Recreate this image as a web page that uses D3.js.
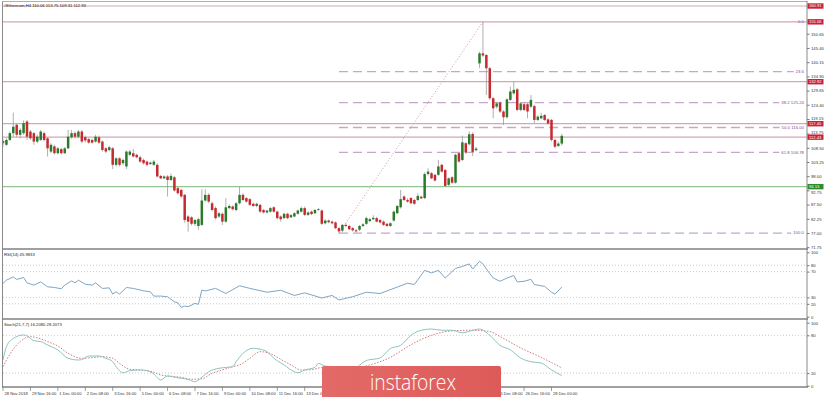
<!DOCTYPE html>
<html><head><meta charset="utf-8">
<script src="https://cdn.jsdelivr.net/npm/d3@7"></script>
<style>
body{margin:0;background:#fff;overflow:hidden;}
svg{display:block;font-family:"Liberation Sans",Arial,sans-serif;}
</style></head><body>
<svg id="c" width="825" height="397"></svg>
<script>
// ---------------- DATA ----------------
const title = "#Ethereum,H4  110.06 113.75 109.31 112.93";
const rsiTitle = "RSI(14) 45.9833";
const stochTitle = "Stoch(21,7,7) 16.2080 28.2073";

// [open, high, low, close] per H4 bar
const candles = [
[110.2,111.8,108.8,111.0],[109.6,112.0,109.2,111.4],[111.4,114.5,111.0,113.9],[113.9,121.5,112.6,116.3],
[117.0,117.6,112.4,113.3],[113.3,115.8,112.0,115.1],[113.9,118.6,113.3,117.6],[118.2,118.8,111.4,112.6],
[114.5,115.1,111.4,112.0],[113.9,114.3,109.6,110.8],[110.8,113.3,110.2,112.6],[111.4,115.1,111.0,114.5],
[113.9,114.5,110.8,111.4],[112.0,112.4,105.3,108.3],[107.1,110.2,106.5,109.6],[109.0,109.6,106.0,106.5],
[106.5,108.8,106.0,108.3],[108.0,108.5,106.0,106.5],[106.5,108.8,106.2,108.3],[108.3,115.1,108.0,112.6],
[112.4,115.1,111.8,113.9],[113.9,114.5,112.0,112.6],[112.6,115.1,112.0,114.5],[114.5,115.1,110.2,110.8],
[112.4,113.0,110.5,111.2],[111.7,112.2,110.0,110.4],[111.4,111.8,110.0,110.4],[110.8,113.3,110.4,112.6],
[112.4,113.0,109.8,110.4],[110.8,111.2,107.1,107.7],[108.3,108.8,106.5,107.1],[107.7,109.2,107.2,108.7],
[108.3,108.8,100.6,102.2],[102.2,105.0,101.5,104.6],[104.6,105.0,101.6,102.2],[102.8,104.5,102.2,104.0],
[101.6,107.5,100.7,107.1],[105.9,107.7,105.5,107.1],[106.5,108.0,104.9,105.3],[105.9,106.3,104.6,105.0],
[105.0,105.5,103.0,103.4],[104.0,104.5,102.3,102.8],[103.4,103.8,101.6,102.2],[102.5,103.4,102.2,103.0],
[102.2,104.0,101.8,103.4],[102.2,102.8,97.5,97.9],[98.1,98.5,96.9,97.2],[97.2,98.3,96.9,97.9],
[97.9,98.4,90.5,96.6],[96.6,99.0,96.2,98.1],[97.6,98.1,92.3,92.7],[93.6,94.0,91.2,91.7],
[92.9,93.3,90.0,90.5],[91.1,91.5,80.8,81.8],[83.1,83.6,77.5,81.2],[82.8,83.2,79.8,80.4],
[80.4,82.2,79.6,81.8],[79.6,82.6,78.2,82.1],[80.0,93.2,79.6,89.0],[89.0,93.2,88.6,91.1],
[91.1,91.7,88.0,88.6],[88.0,88.6,85.0,85.5],[86.2,86.8,82.0,82.5],[83.1,84.8,82.6,84.3],
[84.1,84.6,80.0,81.2],[81.2,89.9,80.8,86.5],[86.2,87.6,85.8,87.0],[86.8,87.2,85.3,85.8],
[85.5,88.4,85.0,88.0],[88.0,94.2,87.6,91.1],[91.1,91.6,88.8,89.2],[89.9,90.3,88.2,88.6],
[89.5,89.9,87.0,87.4],[87.8,88.2,86.6,87.0],[87.0,88.2,86.5,87.8],[87.4,87.8,84.4,84.9],
[85.5,85.9,84.2,84.6],[84.6,85.6,84.2,85.3],[84.9,86.6,84.5,86.2],[86.5,86.9,84.5,84.9],
[84.9,85.3,82.0,82.5],[83.1,83.5,81.2,82.1],[82.5,84.5,82.1,84.1],[84.1,84.5,82.1,82.5],
[82.8,84.0,82.5,83.6],[83.1,84.7,82.8,84.3],[84.1,85.7,83.8,85.3],[84.9,86.8,84.5,86.2],
[86.2,86.8,83.3,83.7],[83.7,85.0,83.3,84.6],[84.9,85.3,83.6,84.0],[84.3,85.9,84.0,85.5],
[85.5,86.2,85.2,85.8],[85.3,85.7,80.0,80.4],[80.6,82.0,80.2,81.6],[81.6,82.0,80.6,81.0],
[81.2,81.6,80.2,80.6],[80.9,81.3,78.4,78.8],[78.8,79.2,76.94,77.6],[77.9,80.4,77.3,80.0],
[80.0,80.6,79.2,79.6],[79.6,80.0,78.0,78.4],[78.8,79.2,77.5,78.0],[78.0,78.5,77.2,77.6],
[78.2,80.0,77.8,79.6],[79.6,80.6,79.2,80.2],[80.4,83.0,80.0,82.5],[81.4,82.6,81.0,82.1],
[82.1,83.6,81.8,82.6],[82.5,83.0,80.9,81.2],[81.8,82.2,80.5,80.9],[81.2,81.6,79.6,80.0],
[80.4,80.8,79.2,79.6],[79.6,81.0,79.2,80.6],[81.6,85.3,81.2,84.9],[84.3,87.4,84.0,87.0],
[86.5,92.9,86.0,89.5],[90.5,90.9,88.8,89.2],[89.2,89.9,88.2,88.6],[89.9,90.3,87.6,88.0],
[89.2,89.6,87.4,87.8],[89.2,91.7,88.8,90.7],[90.4,90.8,89.6,89.8],[89.9,99.4,89.5,98.8],
[98.8,100.9,98.2,99.7],[99.1,99.5,96.9,97.2],[98.5,98.9,96.0,96.4],[98.5,104.0,98.1,101.6],
[102.2,102.6,99.3,99.7],[100.3,100.7,94.0,94.4],[94.8,97.6,94.4,97.2],[97.6,98.0,95.2,95.6],
[95.6,106.3,95.2,105.9],[106.5,106.9,103.0,103.4],[104.0,113.0,103.6,110.5],[110.2,110.6,106.2,106.8],
[109.8,114.6,109.4,113.5],[113.6,114.2,105.4,107.0],[107.6,108.8,107.2,108.2],[139.7,144.0,137.9,143.4],
[143.4,155.06,142.0,142.6],[142.8,143.2,128.0,137.9],[137.9,138.4,126.2,126.8],[126.8,127.2,119.4,123.1],
[123.7,125.5,123.0,124.9],[125.2,125.6,121.4,121.9],[121.9,122.4,116.9,119.8],[119.8,126.8,119.3,126.4],
[126.2,131.1,125.8,129.3],[128.6,132.9,128.2,129.9],[130.1,130.6,122.0,122.5],[122.5,125.4,122.0,124.9],
[124.6,125.2,122.0,122.5],[124.6,125.0,119.4,121.9],[123.7,128.0,123.2,126.2],[123.9,124.4,117.5,118.8],
[118.8,120.5,118.4,120.0],[119.4,121.4,119.0,120.3],[120.6,121.0,118.4,118.8],[119.0,119.4,117.0,117.5],
[118.8,119.2,110.8,111.4],[111.4,111.8,108.2,108.9],[109.2,110.8,108.8,110.06],[110.06,113.75,109.31,112.93]
];

// RSI(14) readings: [bar, value]
const rsiPoints = [[0,51.6],[1,56.7],[3,61.8],[4,57.8],[6,60.9],[7,52.6],[9,49],[11,54.1],[13,46.4],[15,45.4],
[17,43.3],[18,49],[20,55.6],[21,52.6],[22,56.7],[24,50.5],[26,49],[27,52.6],[29,43.9],[31,44.8],[32,35.1],
[33,38.6],[34,35.1],[36,45.4],[38,43.9],[41,40.2],[43,38.6],[44,32],[46,32],[48,30.9],[50,23.2],[51,21.6],
[52,14.5],[53,16.5],[54,15.5],[56,20.7],[57,19.2],[58,41.3],[59,40],[62,44],[65,36],[69,48],[72,44],[77,38],
[81,41],[85,33],[88,37],[93,29],[96,33],[98,26],[102,31],[106,38],[110,36],[115,46],[118,52],[120,50],
[123,72],[125,68],[127,72],[129,60],[132,75],[134,78],[136,82],[137,74],[139,86],[140,82],[141,74],[143,60],
[145,55],[147,60],[149,64],[150,54],[152,55],[154,58],[155,50],[158,47],[160,38],[161,35],[163,46]];

// Stochastic %K and %D readings: [bar, value]
const stochK = [[0,41],[1,62],[3,75],[6,80.5],[7,79],[9,71.4],[11,70],[13,64.6],[16,56.7],[19,43.5],[22,40.8],
[23,41.5],[25,47.1],[28,47.1],[30,43.5],[32,38.1],[33,30.2],[35,20.6],[37,23.8],[40,25],[42,23.8],[44,18.6],
[46,9],[48,15.4],[50,13.5],[52,11.7],[54,10],[56,6.3],[58,13.5],[60,22.2],[63,27.6],[65,29],[67,30.2],[68,38.1],
[70,51.4],[73,59.4],[75,58],[77,54],[79,43.5],[82,32.9],[85,22.2],[86,20.6],[88,24.9],[91,29.2],[92,35.4],
[94,31],[96,30],[99,17],[102,24],[106,40],[110,44],[113,59],[116,64],[119,80],[122,88],[125,90],[128,88],
[131,88],[134,84],[137,88],[139,90],[142,80],[145,64],[148,57],[151,44],[154,38],[157,36],[160,25],[163,16.2]];
const stochD = [[0,30],[2,50],[5,70],[8,77.8],[10,76],[13,70],[16,63],[19,51.4],[23,43.5],[26,44.5],[29,46],
[32,43.5],[34,35.4],[37,26],[40,24.9],[43,23],[46,17],[49,15],[52,13.3],[55,10.2],[58,11],[61,19.7],[64,25],
[67,30.2],[69,33],[72,43.5],[75,54],[78,51],[81,41.9],[84,33],[87,24.9],[90,25.5],[93,29],[96,30],[102,27],
[107,33],[113,45],[119,65],[125,80],[131,87],[137,88],[142,86],[145,78],[151,60],[157,45],[163,28.2]];

const priceTicks = [150.65,145.40,140.15,134.90,129.65,124.40,119.15,113.75,108.50,103.25,98.00,92.75,87.50,82.25,77.00,71.75];
const rsiLevels = [80,70,30,20];
const rsiTickLabels = [100,80,70,30,20,0];
const stochLevels = [80,20];
const stochTickLabels = [100,80,20,0];
// visible time labels and the bar each one marks (labels under the watermark are not shown)
const xLabels = ["28 Nov 2018","29 Nov 16:00","1 Dec 00:00","2 Dec 08:00","3 Dec 16:00","5 Dec 00:00",
 "6 Dec 08:00","7 Dec 16:00","9 Dec 00:00","10 Dec 08:00","11 Dec 16:00","13 Dec 00:00",
 "25 Dec 08:00","26 Dec 16:00","28 Dec 00:00"];
const xLabelBars = [0,8,16,24,32,40,48,56,64,72,80,88,144,152,160];

const redLines = [160.91,155.06,132.92,117.40,112.43];
const greenLines = [94.13];
const fibLow = {bar:98, price:76.94};
const fibHigh = {bar:140, price:155.06};
const fibRatios = [0,0.236,0.382,0.5,0.618,1.0];
const fibLabels = ["0.0","23.6","38.2 125.24","50.0 116.00","61.8 106.78","100.0"];

// ---------------- DRAW ----------------
const svg = d3.select("#c");
const AX = 807;            // right axis x
const BOXH = 5.4;
const x = d3.scaleLinear().domain([0,160]).range([3,551.5]);
const y = d3.scaleLinear().domain([71.75,160.91]).range([247.2,6.0]);
const yR = d3.scaleLinear().domain([0,100]).range([316.7,252.3]);
const yS = d3.scaleLinear().domain([0,100]).range([385.7,322.7]);

const defs = svg.append("defs");
defs.append("clipPath").attr("id","cm").append("rect").attr("x",3).attr("y",2).attr("width",AX-3).attr("height",246.5);
defs.append("clipPath").attr("id","cr").append("rect").attr("x",3).attr("y",250).attr("width",AX-3).attr("height",68);
defs.append("clipPath").attr("id","cs").append("rect").attr("x",3).attr("y",320).attr("width",AX-3).attr("height",66.5);
const grad = defs.append("linearGradient").attr("id","wm").attr("x1",0).attr("x2",1).attr("y1",0).attr("y2",0);
grad.append("stop").attr("offset","0%").attr("stop-color","#e36a68");
grad.append("stop").attr("offset","100%").attr("stop-color","#dc5b59");

const main = svg.append("g").attr("clip-path","url(#cm)");

// horizontal lines
main.selectAll(".rl").data(redLines).join("line")
  .attr("x1",3).attr("x2",AX).attr("y1",d=>y(d)).attr("y2",d=>y(d))
  .attr("stroke","#d6a6b8").attr("stroke-width",1.2);
main.selectAll(".gl").data(greenLines).join("line")
  .attr("x1",3).attr("x2",AX).attr("y1",d=>y(d)).attr("y2",d=>y(d))
  .attr("stroke","#94c494").attr("stroke-width",1.2);

// fibonacci levels
const fibRange = fibHigh.price - fibLow.price;
const fibData = fibRatios.map((r,i)=>({r, p: fibHigh.price - r*fibRange, label: fibLabels[i]}));
const fibG = svg.append("g");
fibData.forEach(f=>{
  const t = fibG.append("text").attr("x",804).attr("y",y(f.p)+1.3).attr("text-anchor","end")
    .attr("font-size",4.3).attr("fill","#7d4f8e").text(f.label);
  const w = t.node().getComputedTextLength();
  if (f.r>0) {
    main.append("line").attr("x1",x(fibLow.bar)).attr("x2",804-w-2).attr("y1",y(f.p)).attr("y2",y(f.p))
      .attr("stroke","#c4a8cc").attr("stroke-width",1.3).attr("stroke-dasharray","9,5");
  }
});
// trend (fib base) line
main.append("line").attr("x1",x(fibLow.bar)).attr("y1",y(fibLow.price)).attr("x2",x(fibHigh.bar)).attr("y2",y(fibHigh.price))
  .attr("stroke","#c98a8a").attr("stroke-width",0.9).attr("stroke-dasharray","1,2");

// candles
const cg = main.append("g");
cg.selectAll(".w").data(candles).join("line")
  .attr("x1",(d,i)=>x(i)).attr("x2",(d,i)=>x(i))
  .attr("y1",d=>y(d[1])).attr("y2",d=>y(d[2]))
  .attr("stroke","#9a9a9a").attr("stroke-width",0.8);
cg.selectAll(".b").data(candles).join("rect")
  .attr("x",(d,i)=>x(i)-1.25).attr("width",2.5)
  .attr("y",d=>y(Math.max(d[0],d[3])))
  .attr("height",d=>Math.max(0.8, Math.abs(y(d[0])-y(d[3]))))
  .attr("fill",d=>d[3]>=d[0] ? "#2a7a2a" : "#c42a2e");

// RSI
const rg = svg.append("g").attr("clip-path","url(#cr)");
rg.selectAll(".lv").data(rsiLevels).join("line")
  .attr("x1",3).attr("x2",AX).attr("y1",d=>yR(d)).attr("y2",d=>yR(d))
  .attr("stroke","#bdbdbd").attr("stroke-width",0.8).attr("stroke-dasharray","1,2");
rg.append("path").datum(rsiPoints)
  .attr("d",d3.line().x(d=>x(d[0])).y(d=>yR(d[1])))
  .attr("fill","none").attr("stroke","#7ea6c6").attr("stroke-width",1);

// Stoch
const sg = svg.append("g").attr("clip-path","url(#cs)");
sg.selectAll(".lv").data(stochLevels).join("line")
  .attr("x1",3).attr("x2",AX).attr("y1",d=>yS(d)).attr("y2",d=>yS(d))
  .attr("stroke","#bdbdbd").attr("stroke-width",0.8).attr("stroke-dasharray","1,2");
sg.append("path").datum(stochD)
  .attr("d",d3.line().curve(d3.curveMonotoneX).x(d=>x(d[0])).y(d=>yS(d[1])))
  .attr("fill","none").attr("stroke","#cf7a7a").attr("stroke-width",1).attr("stroke-dasharray","1.5,1.5");
sg.append("path").datum(stochK)
  .attr("d",d3.line().curve(d3.curveMonotoneX).x(d=>x(d[0])).y(d=>yS(d[1])))
  .attr("fill","none").attr("stroke","#8cc3c0").attr("stroke-width",1);

// frames
const frame = svg.append("g").attr("stroke","#8a8a8a");
frame.append("line").attr("x1",2.5).attr("x2",2.5).attr("y1",1).attr("y2",387).attr("stroke-width",1);
frame.append("line").attr("x1",2).attr("x2",AX).attr("y1",1.5).attr("y2",1.5).attr("stroke-width",1).attr("stroke","#b0b0b0");
frame.append("line").attr("x1",AX).attr("x2",AX).attr("y1",1).attr("y2",387).attr("stroke-width",1);
[249,319,387].forEach(v=>frame.append("line").attr("x1",2).attr("x2",AX+1).attr("y1",v).attr("y2",v).attr("stroke-width",1.6).attr("stroke","#808080"));

// price axis
const boxYs = redLines.concat(greenLines).map(v=>y(v));
const pa = svg.append("g").attr("transform",`translate(${AX},0)`)
  .call(d3.axisRight(y).tickValues(priceTicks).tickSize(2.5).tickPadding(1.5).tickFormat(d3.format(".2f")));
pa.select(".domain").remove();
pa.selectAll("line").attr("stroke","#777");
pa.selectAll("text").attr("font-size",4.2).attr("fill","#333").attr("font-family","Liberation Sans, Arial")
  .attr("y", d => {            // nudge a label clear of a price box right below/above it
    const ty = y(d);
    let shift = 0;
    boxYs.forEach(by => {
      const dist = Math.abs(ty - by);
      if (dist < 5.4) shift = (ty < by ? -1 : 1) * (5.4 - dist);
    });
    return shift;
  });

const ra = svg.append("g").attr("transform",`translate(${AX},0)`)
  .call(d3.axisRight(yR).tickValues(rsiTickLabels).tickSize(2.5).tickPadding(1.5).tickFormat(d3.format("d")));
ra.select(".domain").remove();
ra.selectAll("line").attr("stroke","#777");
ra.selectAll("text").attr("font-size",4.2).attr("fill","#333").attr("font-family","Liberation Sans, Arial");

const sa = svg.append("g").attr("transform",`translate(${AX},0)`)
  .call(d3.axisRight(yS).tickValues(stochTickLabels).tickSize(2.5).tickPadding(1.5).tickFormat(d3.format("d")));
sa.select(".domain").remove();
sa.selectAll("line").attr("stroke","#777");
sa.selectAll("text").attr("font-size",4.2).attr("fill","#333").attr("font-family","Liberation Sans, Arial");

// price boxes
const boxes = redLines.map(v=>({v,c:"#c9213c"})).concat(greenLines.map(v=>({v,c:"#2e8b2e"})));
const bg = svg.append("g");
boxes.forEach(b=>{
  bg.append("rect").attr("x",AX+0.5).attr("y",y(b.v)-BOXH/2).attr("width",16).attr("height",BOXH).attr("fill",b.c);
  bg.append("text").attr("x",AX+2).attr("y",y(b.v)+1.4).attr("font-size",4.1).attr("fill","#fff").text(b.v.toFixed(2));
});

// x axis
const xa = svg.append("g");
xLabelBars.forEach((b,i)=>{
  xa.append("line").attr("x1",x(b)).attr("x2",x(b)).attr("y1",387).attr("y2",391).attr("stroke","#777").attr("stroke-width",0.7);
  xa.append("text").attr("x",x(b)+1.5).attr("y",394.5).attr("font-size",4.1).attr("fill","#333").text(xLabels[i]);
});

// titles
svg.append("text").attr("x",4).attr("y",6.5).attr("font-size",4.2).attr("fill","#222").text(title);
svg.append("text").attr("x",4).attr("y",255.5).attr("font-size",4.2).attr("fill","#222").text(rsiTitle);
svg.append("text").attr("x",4).attr("y",325.5).attr("font-size",4.2).attr("fill","#222").text(stochTitle);

// watermark
svg.append("rect").attr("x",322).attr("y",366).attr("width",179).attr("height",33).attr("rx",2).attr("fill","url(#wm)");
svg.append("text").attr("x",370).attr("y",389.5).attr("font-family","Open Sans, Lato, sans-serif").attr("font-weight",300)
  .attr("font-size",22).attr("fill","#ffffff").attr("textLength",86).attr("lengthAdjust","spacingAndGlyphs").text("instaforex");
</script>
</body></html>
